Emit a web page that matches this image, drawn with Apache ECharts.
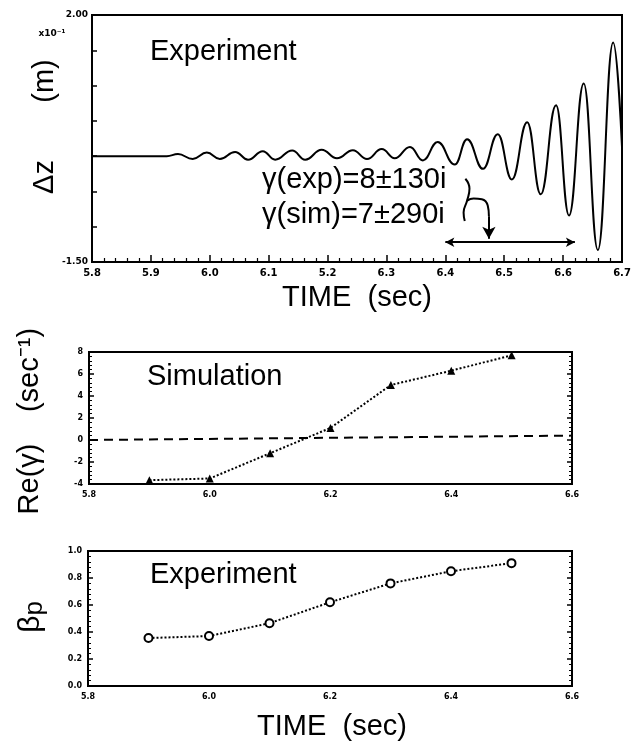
<!DOCTYPE html>
<html><head><meta charset="utf-8">
<script src="https://cdn.jsdelivr.net/npm/echarts@6/dist/echarts.min.js"></script>
<style>html,body{margin:0;padding:0;background:#fff}#c{width:641px;height:745px}</style>
</head><body><div id="c"></div><script>
// ---- Top panel: Δz(t) oscillation (extrema) ----
const topTime = [5.80, 5.927, 5.946, 5.971, 5.995, 6.017, 6.043, 6.065, 6.090, 6.111, 6.140, 6.162, 6.190,
  6.216, 6.243, 6.267, 6.292, 6.314, 6.340, 6.362, 6.387, 6.416, 6.437, 6.464, 6.489, 6.513, 6.539,
  6.562, 6.588, 6.610, 6.635, 6.659, 6.685, 6.700];
const topDz = [0.00, 0.00, 0.03, -0.04, 0.05, -0.04, 0.06, -0.05, 0.07, -0.05, 0.08, -0.05, 0.09,
  -0.03, 0.085, -0.04, 0.10, -0.03, 0.13, -0.06, 0.20, -0.12, 0.24, -0.18, 0.31, -0.33, 0.48,
  -0.54, 0.72, -0.84, 1.03, -1.33, 1.61, 0.13];
const topTickLabels = ['5.8', '5.9', '6.0', '6.1', '5.2', '6.3', '6.4', '6.5', '6.6', '6.7'];
// annotation brace / arrows (data coords)
const braceTop = [[6.434, -0.32], [6.441, -0.46], [6.437, -0.63], [6.431, -0.80], [6.433, -0.92]];
const braceHook = [[6.437, -0.63], [6.448, -0.60], [6.462, -0.61], [6.472, -0.70], [6.474, -0.85]];
const arrowDown = [[6.474, -0.85], [6.474, -1.17]];
const windowArrow = [[6.40, -1.22], [6.62, -1.22]];

// ---- Middle & bottom panels ----
const growthTime = [5.9, 6.0, 6.1, 6.2, 6.3, 6.4, 6.5];
const reGamma = [-3.65, -3.5, -1.2, 1.1, 5.0, 6.3, 7.7];
const zeroRef = [[5.8, 0.0], [6.6, 0.4]];
const betaP = [0.355, 0.37, 0.465, 0.62, 0.76, 0.85, 0.91];

const chart = echarts.init(document.getElementById('c'), null, {renderer: 'canvas'});
const black = '#000';
const smallBold = {color: black, fontFamily: 'DejaVu Sans', fontWeight: 'bold'};
const T = 'Liberation Sans, Arial, sans-serif';
const F = '29px ' + T;

const grids = [
  {left: 92, top: 15, width: 530, height: 247},
  {left: 89, top: 352, width: 483, height: 132},
  {left: 88, top: 551, width: 484, height: 135}
].map(g => Object.assign(g, {show: true, borderColor: black, borderWidth: 2, backgroundColor: 'transparent'}));

function xAx(grid, min, max, interval, labelOpts, tick) {
  return {gridIndex: grid, type: 'value', min, max, interval,
    axisLine: {onZero: false, lineStyle: {color: black, width: 2}},
    axisTick: tick ? {show: true, inside: true, length: 7, lineStyle: {color: black, width: 1.5}} : {show: false},
    minorTick: tick ? {show: true, splitNumber: 5, length: 4, lineStyle: {color: black, width: 1.2}} : {show: false},
    splitLine: {show: false}, minorSplitLine: {show: false},
    axisLabel: Object.assign(labelOpts, smallBold)};
}
function yAx(grid, min, max, interval, pos, labelOpts) {
  return {gridIndex: grid, type: 'value', min, max, interval, position: pos,
    axisLine: {onZero: false, lineStyle: {color: black, width: 2}},
    axisTick: {show: true, inside: true, length: 5, lineStyle: {color: black, width: 1.5}},
    minorTick: {show: true, splitNumber: 5, length: 3, lineStyle: {color: black, width: 1}},
    splitLine: {show: false}, minorSplitLine: {show: false},
    axisLabel: labelOpts ? Object.assign(labelOpts, smallBold) : {show: false}};
}

const topY = yAx(0, -1.5, 2.0, 0.5, 'left', {fontSize: 9, margin: 4,
  formatter: v => (v === 2 ? '2.00' : (v === -1.5 ? '-1.50' : ''))});
topY.minorTick = {show: false};

const option = {
  animation: false,
  backgroundColor: '#fff',
  grid: grids,
  xAxis: [
    xAx(0, 5.8, 6.7, 0.1, {fontSize: 10, margin: 6, formatter: v => topTickLabels[Math.round((v - 5.8) * 10)] || ''}, true),
    xAx(1, 5.8, 6.6, 0.2, {fontSize: 8, margin: 7, formatter: v => v.toFixed(1)}, false),
    xAx(2, 5.8, 6.6, 0.2, {fontSize: 8, margin: 7, formatter: v => v.toFixed(1)}, false)
  ],
  yAxis: [
    topY,
    yAx(1, -4, 8, 2, 'left', {fontSize: 8, margin: 6}),
    yAx(1, -4, 8, 2, 'right', null),
    yAx(2, 0, 1.0, 0.2, 'left', {fontSize: 8, margin: 6, formatter: v => v.toFixed(1)}),
    yAx(2, 0, 1.0, 0.2, 'right', null)
  ],
  series: [
    {type: 'line', xAxisIndex: 0, yAxisIndex: 0, data: topTime.map((t, i) => [t, topDz[i]]),
      smooth: 0.45, smoothMonotone: 'x', showSymbol: false, silent: true,
      lineStyle: {color: black, width: 2}},
    {type: 'line', xAxisIndex: 0, yAxisIndex: 0, data: braceTop, smooth: true, showSymbol: false,
      silent: true, lineStyle: {color: black, width: 2}},
    {type: 'line', xAxisIndex: 0, yAxisIndex: 0, data: braceHook, smooth: true, showSymbol: false,
      silent: true, lineStyle: {color: black, width: 2},
      markLine: {silent: true, animation: false, label: {show: false},
        data: [
          [{coord: arrowDown[0], symbol: 'none'}, {coord: arrowDown[1], symbol: 'arrow', symbolSize: [10, 12]}],
          [{coord: windowArrow[0], symbol: 'arrow', symbolSize: [7, 9]}, {coord: windowArrow[1], symbol: 'arrow', symbolSize: [7, 9]}]
        ],
        lineStyle: {color: black, width: 2, type: 'solid'}}},
    {type: 'line', xAxisIndex: 1, yAxisIndex: 1, data: zeroRef, showSymbol: false, silent: true,
      lineStyle: {color: black, width: 2, type: [9, 6]}},
    {type: 'line', xAxisIndex: 1, yAxisIndex: 1, data: growthTime.map((t, i) => [t, reGamma[i]]),
      symbol: 'triangle', symbolSize: 8, showSymbol: true, itemStyle: {color: black},
      lineStyle: {color: black, width: 2, type: [2, 2]}},
    {type: 'line', xAxisIndex: 2, yAxisIndex: 3, data: growthTime.map((t, i) => [t, betaP[i]]),
      symbol: 'emptyCircle', symbolSize: 8, showSymbol: true, itemStyle: {color: black, borderWidth: 2},
      lineStyle: {color: black, width: 2, type: [2, 2]}}
  ],
  graphic: [
    {type: 'text', x: 150, y: 52, style: {text: 'Experiment', font: F, fill: black, textAlign: 'left', textVerticalAlign: 'middle'}},
    {type: 'text', x: 262, y: 180, style: {text: 'γ(exp)=8±130i', font: F, fill: black, textAlign: 'left', textVerticalAlign: 'middle'}},
    {type: 'text', x: 262, y: 215, style: {text: 'γ(sim)=7±290i', font: F, fill: black, textAlign: 'left', textVerticalAlign: 'middle'}},
    {type: 'text', x: 45, y: 177, rotation: Math.PI / 2, style: {text: 'Δz', font: F, fill: black, textAlign: 'center', textVerticalAlign: 'middle'}},
    {type: 'text', x: 45, y: 81, rotation: Math.PI / 2, style: {text: '(m)', font: F, fill: black, textAlign: 'center', textVerticalAlign: 'middle'}},
    {type: 'text', x: 52, y: 34, style: {text: 'x10⁻¹', font: 'bold 9px DejaVu Sans', fill: black, textAlign: 'center', textVerticalAlign: 'middle'}},
    {type: 'text', x: 357, y: 298, style: {text: 'TIME  (sec)', font: F, fill: black, textAlign: 'center', textVerticalAlign: 'middle'}},
    {type: 'text', x: 147, y: 377, style: {text: 'Simulation', font: F, fill: black, textAlign: 'left', textVerticalAlign: 'middle'}},
    {type: 'text', x: 30, y: 479, rotation: Math.PI / 2, style: {text: 'Re(γ)', font: F, fill: black, textAlign: 'center', textVerticalAlign: 'middle'}},
    {type: 'text', x: 30, y: 370, rotation: Math.PI / 2, style: {text: '(sec⁻¹)', font: F, fill: black, textAlign: 'center', textVerticalAlign: 'middle'}},
    {type: 'text', x: 150, y: 575, style: {text: 'Experiment', font: F, fill: black, textAlign: 'left', textVerticalAlign: 'middle'}},
    {type: 'text', x: 31, y: 617, rotation: Math.PI / 2, style: {text: '{a|β}{b|p}', fill: black, textAlign: 'center', textVerticalAlign: 'middle',
      rich: {a: {font: '30px ' + T, fill: black}, b: {font: '26px ' + T, fill: black, padding: [8, 0, 0, 0]}}}},
    {type: 'text', x: 332, y: 727, style: {text: 'TIME  (sec)', font: F, fill: black, textAlign: 'center', textVerticalAlign: 'middle'}}
  ]
};
chart.setOption(option);
</script></body></html>
